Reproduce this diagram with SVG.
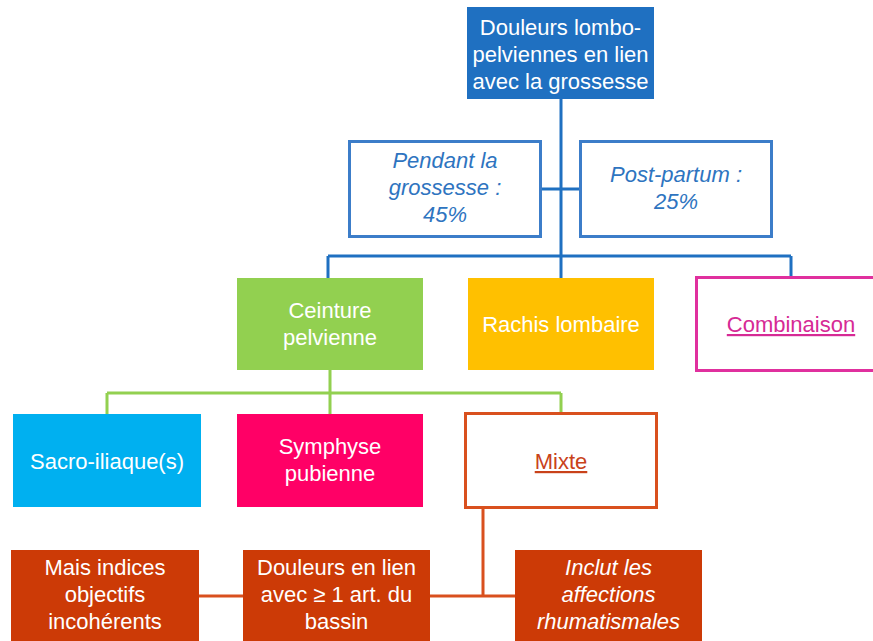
<svg xmlns="http://www.w3.org/2000/svg" width="873" height="641" viewBox="0 0 873 641">
<style>
text{font-family:"Liberation Sans",Arial,sans-serif;font-size:22px;text-anchor:middle}
.w{fill:#ffffff}
.it{font-style:italic}
.blueT{fill:#2E74C0}
.c-blue{stroke:#1F70C1;stroke-width:3;fill:none}
.c-green{stroke:#92D050;stroke-width:3;fill:none}
.c-orange{stroke:#D9501E;stroke-width:3;fill:none}
</style>
<rect width="873" height="641" fill="#ffffff"/>
<g id="connectors">
<path class="c-blue" d="M561,99 V278 M541,189 H580 M328,256 H791 M328,256 V278 M791,256 V276"/>
<path class="c-green" d="M330,370 V414 M107,393 H561 M107,393 V414 M561,393 V413"/>
<path class="c-orange" d="M483,508 V596 M430,596 H515 M199,596 H243"/>
</g>
<g id="root">
<rect x="467" y="7" width="187" height="92" fill="#1F70C1"/>
<text class="w" x="560.5" y="35">Douleurs lombo-</text>
<text class="w" x="560.5" y="62">pelviennes en lien</text>
<text class="w" x="560.5" y="89">avec la grossesse</text>
</g>
<g id="pendant">
<rect x="349.5" y="141.5" width="191" height="95" fill="#ffffff" stroke="#3C7DC9" stroke-width="3"/>
<text class="it blueT" x="445" y="168">Pendant la</text>
<text class="it blueT" x="445" y="195">grossesse :</text>
<text class="it blueT" x="445" y="222">45%</text>
</g>
<g id="postpartum">
<rect x="580.5" y="141.5" width="191" height="95" fill="#ffffff" stroke="#3C7DC9" stroke-width="3"/>
<text class="it blueT" x="676" y="182">Post-partum :</text>
<text class="it blueT" x="676" y="209">25%</text>
</g>
<g id="ceinture">
<rect x="237" y="278" width="186" height="92" fill="#92D050"/>
<text class="w" x="330" y="318">Ceinture</text>
<text class="w" x="330" y="345">pelvienne</text>
</g>
<g id="rachis">
<rect x="468" y="278" width="186" height="92" fill="#FFC000"/>
<text class="w" x="561" y="332">Rachis lombaire</text>
</g>
<g id="combinaison">
<rect x="696.5" y="277.5" width="190" height="93" fill="#ffffff" stroke="#E0309E" stroke-width="3"/>
<text x="791" y="332" fill="#D62A95" text-decoration="underline">Combinaison</text>
</g>
<g id="sacro">
<rect x="13" y="414" width="188" height="93" fill="#00B0F0"/>
<text class="w" x="107" y="469">Sacro-iliaque(s)</text>
</g>
<g id="symphyse">
<rect x="237" y="414" width="186" height="93" fill="#FF0066"/>
<text class="w" x="330" y="454">Symphyse</text>
<text class="w" x="330" y="481">pubienne</text>
</g>
<g id="mixte">
<rect x="465.5" y="413.5" width="191" height="94" fill="#ffffff" stroke="#D9501E" stroke-width="3"/>
<text x="561" y="469" fill="#C9421A" text-decoration="underline">Mixte</text>
</g>
<g id="mais">
<rect x="11" y="550" width="188" height="91" fill="#CC3A06"/>
<text class="w" x="105" y="575">Mais indices</text>
<text class="w" x="105" y="602">objectifs</text>
<text class="w" x="105" y="629">incohérents</text>
</g>
<g id="douleurs">
<rect x="243" y="550" width="187" height="91" fill="#CC3A06"/>
<text class="w" x="336.5" y="575">Douleurs en lien</text>
<text class="w" x="336.5" y="602">avec ≥ 1 art. du</text>
<text class="w" x="336.5" y="629">bassin</text>
</g>
<g id="inclut">
<rect x="515" y="550" width="187" height="91" fill="#CC3A06"/>
<text class="w it" x="608.5" y="575">Inclut les</text>
<text class="w it" x="608.5" y="602">affections</text>
<text class="w it" x="608.5" y="629">rhumatismales</text>
</g>
</svg>
